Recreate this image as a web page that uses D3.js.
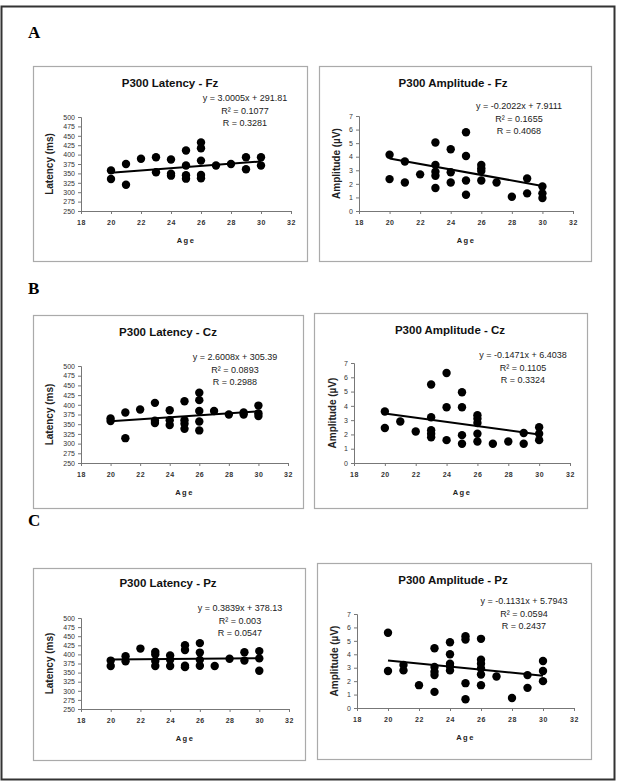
<!DOCTYPE html>
<html>
<head>
<meta charset="utf-8">
<script src="https://cdn.jsdelivr.net/npm/d3@7"></script>
<style>
  body { margin: 0; background: #fff; }
  svg text { font-family: Arial, "Liberation Sans", sans-serif; }
</style>
</head>
<body>
<svg id="fig"></svg>
<script>
// Data (age vs. P300 latency / amplitude)
const ageLatFz = [20,20,21,21,22,23,23,24,24,24,25,25,25,25,26,26,26,26,26,27,28,29,29,30,30];
const latFz    = [358,335,375,320,389,393,353,387,349,344,411,371,345,336,432,417,384,346,337,371,375,393,361,393,371];

const ageAmpFz = [20,20,21,21,22,23,23,23,23,23,24,24,24,25,25,25,25,26,26,26,26,27,28,29,29,30,30,30];
const ampFz    = [4.15,2.35,3.65,2.1,2.7,5.05,3.4,2.9,2.6,1.7,4.55,2.85,2.1,5.8,4.05,2.25,1.2,3.4,3.15,2.95,2.25,2.1,1.05,2.4,1.3,1.8,1.3,0.95];

const ageLatCz = [20,20,21,21,22,23,23,23,24,24,24,25,25,25,25,26,26,26,26,26,27,28,29,29,30,30,30];
const latCz    = [365,358,380,314,388,405,359,353,386,360,348,409,360,351,338,431,412,384,357,334,384,375,380,375,398,378,371];

const ageAmpCz = [20,20,21,22,23,23,23,23,23,24,24,24,25,25,25,25,26,26,26,26,26,27,28,29,29,30,30,30];
const ampCz    = [3.6,2.45,2.9,2.2,5.5,3.2,2.3,2.05,1.8,6.3,3.9,1.6,4.95,3.9,1.95,1.35,3.35,3.1,2.8,2.05,1.5,1.35,1.5,2.1,1.35,2.5,2.05,1.6];

const ageLatPz = [20,20,21,21,22,23,23,23,23,24,24,24,25,25,25,25,26,26,26,26,27,28,29,29,30,30,30];
const latPz    = [383,368,395,381,416,407,400,382,368,397,385,368,425,412,369,365,431,405,385,369,368,388,406,383,409,389,355];

const ageAmpPz = [20,20,21,21,22,23,23,23,23,23,24,24,24,24,24,25,25,25,25,26,26,26,26,26,26,27,28,29,29,30,30,30];
const ampPz    = [5.6,2.75,3.2,2.8,1.7,4.45,3.05,2.7,2.45,1.2,4.9,4.0,3.3,3.1,2.8,5.35,5.1,1.85,0.65,5.15,3.6,3.3,2.95,2.5,1.7,2.35,0.75,2.45,1.5,3.5,2.75,2.0];

// regression lines as printed on each chart
const titles     = ["P300 Latency - Fz","P300 Amplitude - Fz","P300 Latency - Cz","P300 Amplitude - Cz","P300 Latency - Pz","P300 Amplitude - Pz"];
const slopes     = [3.0005, -0.2022, 2.6008, -0.1471, 0.3839, -0.1131];
const intercepts = [291.81, 7.9111, 305.39, 6.4038, 378.13, 5.7943];
const r2Labels   = ["0.1077","0.1655","0.0893","0.1105","0.003","0.0594"];
const rLabels    = ["0.3281","0.4068","0.2988","0.3324","0.0547","0.2437"];

const ageTicks = [18,20,22,24,26,28,30,32];
const latTicks = [250,275,300,325,350,375,400,425,450,475,500];
const ampTicks = [0,1,2,3,4,5,6,7];
const panelLetters = ["A","B","C"];

const W = 618, H = 783;
const svg = d3.select("#fig").attr("width", W).attr("height", H);

svg.append("rect").attr("width", W).attr("height", H).attr("fill", "#fff");
// outer frame
svg.append("rect")
  .attr("x", 1.5).attr("y", 6.5).attr("width", 613).attr("height", 773)
  .attr("fill", "none").attr("stroke", "#333").attr("stroke-width", 2);

// letters
const letterY = [38, 294, 526];
svg.selectAll("text.letter").data(panelLetters).enter().append("text")
  .attr("class", "letter")
  .attr("x", 28).attr("y", (d, i) => letterY[i])
  .style("font-family", "'Liberation Serif', 'Times New Roman', serif")
  .style("font-weight", "bold").style("font-size", "17px")
  .text(d => d);

// layout of each small chart
const panels = [
  { ages: ageLatFz, vals: latFz, lat: true,  box: [33,66,307,261],  px: [81,291],  py: [211,117], title: [170,87],  eq: [245,101], ylab: 53 },
  { ages: ageAmpFz, vals: ampFz, lat: false, box: [319,66,591,261], px: [359,573], py: [211,116], title: [453,87],  eq: [519,109], ylab: 340 },
  { ages: ageLatCz, vals: latCz, lat: true,  box: [33,315,303,508], px: [81,288],  py: [463,366], title: [168,336], eq: [235,360], ylab: 53 },
  { ages: ageAmpCz, vals: ampCz, lat: false, box: [314,313,587,508],px: [354,570], py: [463,363], title: [450,334], eq: [523,358], ylab: 336 },
  { ages: ageLatPz, vals: latPz, lat: true,  box: [33,568,305,760], px: [81,289],  py: [709,618], title: [168,587], eq: [240,611], ylab: 53 },
  { ages: ageAmpPz, vals: ampPz, lat: false, box: [317,563,591,759],px: [357,574], py: [708,614], title: [453,584], eq: [524,604], ylab: 338 }
];

panels.forEach((p, i) => {
  const g = svg.append("g");
  const [bx0, by0, bx1, by1] = p.box;
  g.append("rect")
    .attr("x", bx0 + 0.5).attr("y", by0 + 0.5)
    .attr("width", bx1 - bx0).attr("height", by1 - by0)
    .attr("fill", "#fff").attr("stroke", "#aaa").attr("stroke-width", 1.2);

  const x = d3.scaleLinear().domain([18, 32]).range(p.px);
  const y = d3.scaleLinear().domain(p.lat ? [250, 500] : [0, 7]).range(p.py);

  const xAxis = g.append("g").attr("transform", `translate(0,${p.py[0]})`)
    .call(d3.axisBottom(x).tickValues(ageTicks).tickSize(3).tickPadding(6));
  const yAxis = g.append("g").attr("transform", `translate(${p.px[0]},0)`)
    .call(d3.axisLeft(y).tickValues(p.lat ? latTicks : ampTicks)
      .tickFormat(d3.format("d")).tickSize(3).tickPadding(3));

  [xAxis, yAxis].forEach(a => {
    a.select(".domain").attr("stroke", "#777");
    a.selectAll(".tick line").attr("stroke", "#777");
    a.selectAll(".tick text").attr("fill", "#333").style("font-size", "7px");
  });
  xAxis.selectAll(".tick text").style("font-weight", "bold").style("letter-spacing", "0.5px");

  // axis titles
  g.append("text")
    .attr("x", (p.px[0] + p.px[1]) / 2).attr("y", p.py[0] + 32)
    .attr("text-anchor", "middle")
    .style("font-size", "7.5px").style("font-weight", "bold").style("letter-spacing", "1.5px")
    .attr("fill", "#222").text("Age");
  g.append("text")
    .attr("transform", `translate(${p.ylab},${(p.py[0] + p.py[1]) / 2}) rotate(-90)`)
    .attr("text-anchor", "middle")
    .style("font-size", "10px").style("font-weight", "bold")
    .attr("fill", "#222").text(p.lat ? "Latency (ms)" : "Amplitude (\u00b5V)");

  g.append("text")
    .attr("x", p.title[0]).attr("y", p.title[1])
    .attr("text-anchor", "middle")
    .style("font-size", "11.5px").style("font-weight", "bold")
    .attr("fill", "#111").text(titles[i]);

  // points
  g.selectAll("circle").data(p.ages).enter().append("circle")
    .attr("cx", d => x(d))
    .attr("cy", (d, k) => y(p.vals[k]))
    .attr("r", 4.2)
    .attr("fill", "#000");

  // trend line over observed age range
  const ext = d3.extent(p.ages);
  g.append("line")
    .attr("x1", x(ext[0])).attr("y1", y(slopes[i] * ext[0] + intercepts[i]))
    .attr("x2", x(ext[1])).attr("y2", y(slopes[i] * ext[1] + intercepts[i]))
    .attr("stroke", "#000").attr("stroke-width", 2);

  // equation block
  const sign = slopes[i] < 0 ? "-" : "";
  const eqLines = [
    `y = ${sign}${Math.abs(slopes[i])}x + ${intercepts[i]}`,
    `R\u00b2 = ${r2Labels[i]}`,
    `R = ${rLabels[i]}`
  ];
  g.selectAll("text.eq").data(eqLines).enter().append("text")
    .attr("class", "eq")
    .attr("x", p.eq[0]).attr("y", (d, k) => p.eq[1] + k * 12.5)
    .attr("text-anchor", "middle")
    .style("font-size", "9px").attr("fill", "#222")
    .text(d => d);
});
</script>
</body>
</html>
